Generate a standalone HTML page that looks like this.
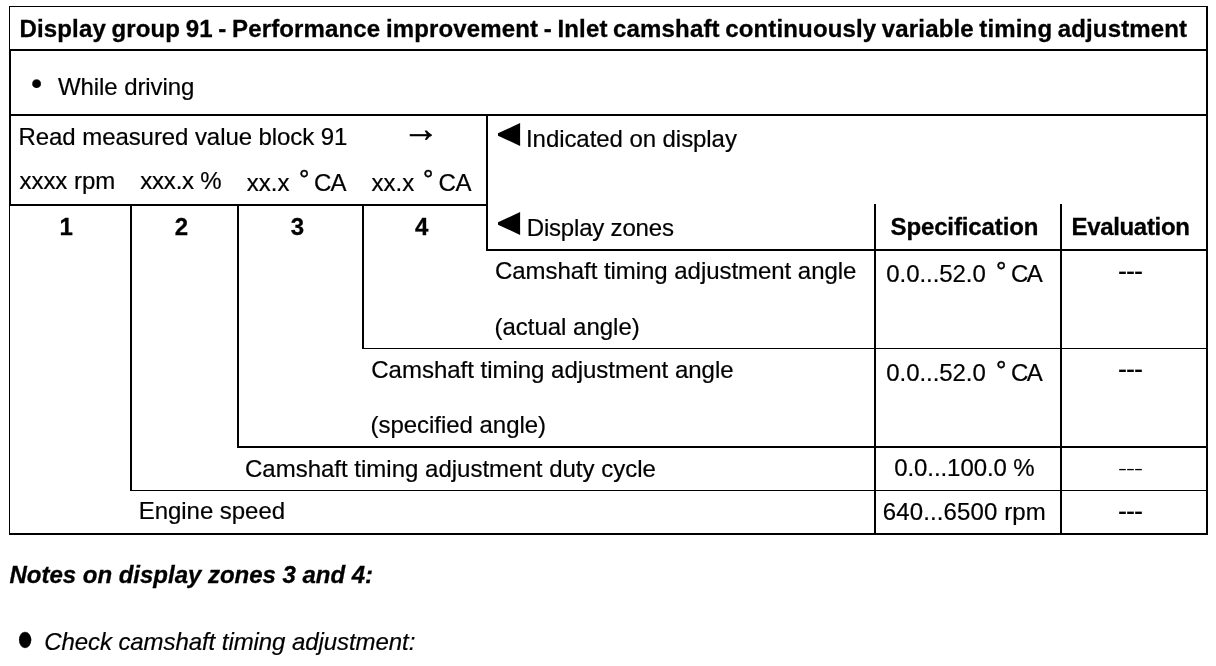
<!DOCTYPE html>
<html lang="en">
<head>
<meta charset="utf-8">
<title>Display group 91</title>
<style>
html,body{margin:0;padding:0;background:#fff;}
body{width:1216px;height:666px;position:relative;overflow:hidden;font-family:"Liberation Sans", Arial, Helvetica, sans-serif;font-size:24px;color:#000;}
.l{position:absolute;background:#000;}
.g{position:absolute;line-height:0;}
.t{position:absolute;white-space:nowrap;line-height:30px;height:30px;-webkit-text-stroke:0.2px #000;}
.b{font-weight:bold;-webkit-text-stroke:0.3px #000;}
.i{font-style:italic;}
.k{-webkit-text-stroke:0.45px #000;}
.a{-webkit-text-stroke:0.8px #000;}
</style>
</head>
<body>
<div class="l" style="left:9px;top:6px;width:1199px;height:1px"></div>
<div class="l" style="left:9px;top:49px;width:1199px;height:2px"></div>
<div class="l" style="left:9px;top:114px;width:1199px;height:2px"></div>
<div class="l" style="left:9px;top:204px;width:479px;height:2px"></div>
<div class="l" style="left:486px;top:249px;width:722px;height:2px"></div>
<div class="l" style="left:362px;top:348px;width:846px;height:1px"></div>
<div class="l" style="left:237px;top:446px;width:971px;height:2px"></div>
<div class="l" style="left:130px;top:490px;width:1078px;height:1px"></div>
<div class="l" style="left:9px;top:533px;width:1199px;height:2px"></div>
<div class="l" style="left:9px;top:6px;width:1px;height:529px"></div>
<div class="l" style="left:10px;top:50px;width:1px;height:155px"></div>
<div class="l" style="left:1206px;top:6px;width:2px;height:529px"></div>
<div class="l" style="left:130px;top:204px;width:2px;height:287px"></div>
<div class="l" style="left:237px;top:204px;width:2px;height:244px"></div>
<div class="l" style="left:362px;top:204px;width:2px;height:145px"></div>
<div class="l" style="left:486px;top:114px;width:2px;height:137px"></div>
<div class="l" style="left:874px;top:204px;width:2px;height:331px"></div>
<div class="l" style="left:1060px;top:204px;width:2px;height:331px"></div>
<div class="g" style="left:498px;top:122.9px"><svg width="23" height="23" viewBox="0 0 23 23"><polygon points="0,10.3 22.1,0 22.1,23 0,12.7" fill="#000"/></svg></div>
<div class="g" style="left:497.9px;top:211.9px"><svg width="23" height="23" viewBox="0 0 23 23"><polygon points="0,10.3 22.1,0 22.1,23 0,12.7" fill="#000"/></svg></div>
<div class="t b" style="left:19.50px;top:14.00px;letter-spacing:0.145px;word-spacing:-1.240px;">Display group 91 - Performance improvement - Inlet camshaft continuously variable timing adjustment</div>
<div class="t" style="left:30.88px;top:68.00px;font-size:32px;">•</div>
<div class="t" style="left:58.00px;top:72.00px;letter-spacing:-0.083px;">While driving</div>
<div class="t" style="left:18.55px;top:122.00px;letter-spacing:-0.074px;">Read measured value block 91</div>
<div class="t a" style="left:403.00px;top:114.00px;font-size:36px;">→</div>
<div class="t" style="left:19.45px;top:166.00px;letter-spacing:-0.021px;">xxxx rpm</div>
<div class="t" style="left:140.25px;top:166.00px;letter-spacing:-0.208px;">xxx.x %</div>
<div class="t" style="left:246.75px;top:168.00px;letter-spacing:0.017px;">xx.x</div>
<div class="t k" style="left:298.88px;top:164.00px;font-size:26px;">°</div>
<div class="t" style="left:314.00px;top:168.00px;letter-spacing:-0.950px;">CA</div>
<div class="t" style="left:371.45px;top:168.00px;letter-spacing:0.017px;">xx.x</div>
<div class="t k" style="left:423.07px;top:164.00px;font-size:26px;">°</div>
<div class="t" style="left:438.50px;top:168.00px;letter-spacing:-0.450px;">CA</div>
<div class="t b" style="left:59.50px;top:212.00px;">1</div>
<div class="t b" style="left:174.68px;top:212.00px;">2</div>
<div class="t b" style="left:290.80px;top:212.00px;">3</div>
<div class="t b" style="left:415.05px;top:212.00px;">4</div>
<div class="t" style="left:526.00px;top:124.00px;letter-spacing:-0.066px;">Indicated on display</div>
<div class="t" style="left:526.75px;top:213.00px;letter-spacing:-0.188px;">Display zones</div>
<div class="t b" style="left:890.50px;top:212.00px;letter-spacing:-0.125px;">Specification</div>
<div class="t b" style="left:1071.50px;top:212.00px;letter-spacing:-0.333px;">Evaluation</div>
<div class="t" style="left:495.00px;top:256.00px;letter-spacing:-0.048px;">Camshaft timing adjustment angle</div>
<div class="t" style="left:494.50px;top:312.00px;letter-spacing:-0.015px;">(actual angle)</div>
<div class="t" style="left:886.25px;top:259.00px;letter-spacing:-0.056px;">0.0...52.0</div>
<div class="t k" style="left:995.88px;top:256.00px;font-size:26px;">°</div>
<div class="t" style="left:1011.00px;top:259.00px;letter-spacing:-1.550px;">CA</div>
<div class="t" style="left:1118.00px;top:256.00px;font-size:27px;letter-spacing:-1.000px;">---</div>
<div class="t" style="left:371.30px;top:355.00px;letter-spacing:-0.019px;">Camshaft timing adjustment angle</div>
<div class="t" style="left:370.50px;top:410.00px;letter-spacing:-0.034px;">(specified angle)</div>
<div class="t" style="left:886.25px;top:358.00px;letter-spacing:-0.056px;">0.0...52.0</div>
<div class="t k" style="left:995.88px;top:355.00px;font-size:26px;">°</div>
<div class="t" style="left:1011.00px;top:358.00px;letter-spacing:-1.550px;">CA</div>
<div class="t" style="left:1118.00px;top:354.00px;font-size:27px;letter-spacing:-1.000px;">---</div>
<div class="t" style="left:245.00px;top:454.00px;">Camshaft timing adjustment duty cycle</div>
<div class="t" style="left:894.25px;top:453.00px;letter-spacing:-0.083px;">0.0...100.0 %</div>
<div class="t" style="left:1118.00px;top:454.00px;font-size:27px;letter-spacing:-1.000px;transform:scaleY(0.6);">---</div>
<div class="t" style="left:138.75px;top:496.00px;letter-spacing:-0.045px;">Engine speed</div>
<div class="t" style="left:882.80px;top:497.00px;letter-spacing:0.123px;">640...6500 rpm</div>
<div class="t" style="left:1118.00px;top:496.00px;font-size:27px;letter-spacing:-1.000px;">---</div>
<div class="t b i" style="left:9.55px;top:560.00px;letter-spacing:-0.018px;">Notes on display zones 3 and 4:</div>
<div class="t" style="left:17.23px;top:625.00px;font-size:45px;transform:scaleY(1.3);">•</div>
<div class="t i" style="left:44.15px;top:627.00px;letter-spacing:-0.073px;">Check camshaft timing adjustment:</div>
</body>
</html>
